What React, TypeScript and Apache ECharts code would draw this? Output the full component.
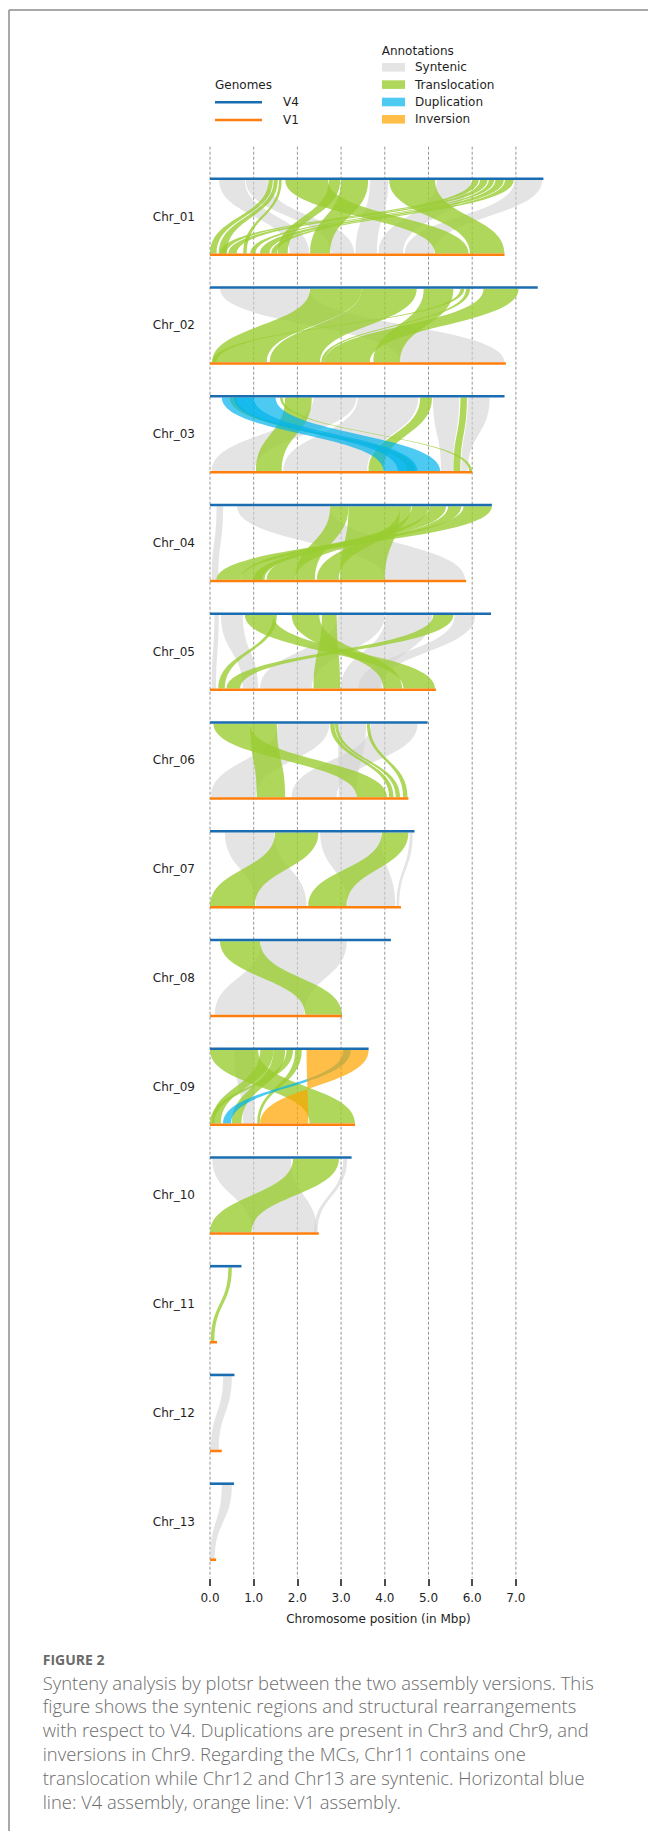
import React, { useEffect, useRef } from 'react';
import * as echarts from 'echarts';

// ---------- data ----------
const chromosomes = ['Chr_01', 'Chr_02', 'Chr_03', 'Chr_04', 'Chr_05', 'Chr_06', 'Chr_07', 'Chr_08', 'Chr_09', 'Chr_10', 'Chr_11', 'Chr_12', 'Chr_13'];
const v4Lengths = [7.63, 7.5, 6.74, 6.45, 6.43, 4.98, 4.68, 4.14, 3.63, 3.24, 0.72, 0.56, 0.55];
const v1Lengths = [6.74, 6.77, 6.0, 5.86, 5.17, 4.54, 4.37, 3.02, 3.32, 2.49, 0.16, 0.27, 0.14];
const xTicks = [0, 1, 2, 3, 4, 5, 6, 7];

// [chromosome index, V4 start, V4 end, V1 start, V1 end] (Mbp)
const syntenicRibbons = [
  [0, 0.21, 0.8, 1.83, 2.27],
  [0, 0.82, 1.32, 2.78, 3.3],
  [0, 3.66, 4.08, 3.33, 3.82],
  [0, 5.19, 5.97, 3.86, 4.42],
  [0, 6.97, 7.6, 4.46, 5.12],
  [1, 0.23, 2.27, 4.36, 6.74],
  [2, 2.37, 3.35, 0.04, 1.03],
  [2, 3.38, 4.76, 1.68, 3.6],
  [2, 5.1, 5.7, 5.29, 5.56],
  [2, 5.9, 6.4, 5.75, 5.9],
  [3, 0.15, 0.3, 0.04, 0.19],
  [3, 0.62, 2.74, 4.02, 5.84],
  [4, 0.1, 0.2, 0.04, 0.14],
  [4, 0.25, 0.75, 0.75, 1.1],
  [4, 2.92, 4.0, 1.15, 2.33],
  [4, 4.02, 5.08, 3.0, 3.95],
  [4, 5.6, 6.07, 3.4, 3.9],
  [5, 1.55, 2.73, 0.02, 1.05],
  [5, 2.93, 3.57, 2.95, 3.35],
  [5, 3.68, 4.75, 1.87, 2.9],
  [6, 0.34, 1.47, 1.05, 2.21],
  [6, 2.52, 3.91, 3.15, 4.24],
  [6, 4.57, 4.64, 4.27, 4.33],
  [7, 1.17, 3.13, 0.11, 2.16],
  [8, 0.55, 0.99, 0.76, 1.03],
  [9, 0.05, 1.85, 0.97, 2.45],
  [9, 3.05, 3.14, 2.38, 2.46],
  [11, 0.3, 0.5, 0.02, 0.2],
  [12, 0.27, 0.5, 0.0, 0.11],
];

const translocationRibbons = [
  [0, 1.34, 1.44, 0.0, 0.15],
  [0, 1.46, 1.55, 0.2, 0.38],
  [0, 1.58, 1.64, 0.76, 0.84],
  [0, 1.72, 2.7, 5.15, 5.92],
  [0, 2.72, 2.98, 1.55, 1.78],
  [0, 3.0, 3.62, 2.29, 2.75],
  [0, 4.1, 5.15, 5.95, 6.74],
  [0, 6.0, 6.15, 0.23, 0.38],
  [0, 6.18, 6.35, 0.42, 0.61],
  [0, 6.38, 6.5, 0.92, 1.05],
  [0, 6.53, 6.72, 1.15, 1.37],
  [0, 6.75, 6.95, 1.41, 1.53],
  [1, 2.29, 3.47, 0.05, 1.3],
  [1, 3.47, 4.73, 1.37, 2.52],
  [1, 4.89, 5.57, 3.74, 4.35],
  [1, 5.73, 5.82, 0.05, 0.15],
  [1, 5.86, 5.95, 2.55, 2.62],
  [1, 6.26, 7.06, 2.62, 3.66],
  [2, 1.72, 2.33, 1.05, 1.64],
  [2, 0.45, 0.6, 4.52, 4.7],
  [2, 4.81, 5.08, 3.63, 3.97],
  [2, 5.73, 5.88, 5.57, 5.73],
  [2, 1.6, 1.66, 5.93, 6.0],
  [3, 2.75, 3.17, 1.95, 2.4],
  [3, 3.17, 4.35, 2.98, 4.0],
  [3, 4.35, 4.6, 2.45, 2.95],
  [3, 4.62, 5.0, 1.3, 1.95],
  [3, 5.02, 5.4, 0.7, 1.25],
  [3, 5.45, 5.75, 1.0, 1.2],
  [3, 5.8, 6.45, 0.15, 0.7],
  [4, 0.8, 1.45, 4.43, 5.15],
  [4, 1.45, 1.53, 0.19, 0.34],
  [4, 1.87, 2.5, 3.97, 4.4],
  [4, 2.56, 2.9, 2.37, 2.98],
  [4, 5.11, 5.57, 0.38, 0.69],
  [5, 0.08, 0.92, 3.36, 4.05],
  [5, 0.92, 1.53, 1.07, 1.72],
  [5, 2.75, 2.85, 4.1, 4.2],
  [5, 2.86, 2.93, 4.25, 4.35],
  [5, 3.59, 3.66, 4.42, 4.52],
  [6, 1.49, 2.48, 0.0, 1.03],
  [6, 3.93, 4.54, 2.25, 3.13],
  [7, 0.23, 1.15, 2.18, 3.02],
  [8, 0.0, 1.1, 2.28, 3.32],
  [8, 1.15, 1.45, 0.04, 0.25],
  [8, 1.45, 1.72, 0.5, 0.72],
  [8, 1.75, 1.9, 0.0, 0.1],
  [8, 1.95, 2.1, 1.08, 1.14],
  [9, 1.9, 2.95, 0.0, 0.95],
  [10, 0.42, 0.5, 0.02, 0.1],
];

const duplicationRibbons = [
  [2, 0.27, 0.85, 3.97, 4.6],
  [2, 0.55, 1.0, 4.3, 4.75],
  [2, 0.85, 1.5, 4.6, 5.27],
  [8, 3.05, 3.22, 0.3, 0.48],
];

const inversionRibbons = [
  [8, 2.21, 3.63, 1.15, 2.25],
];

const captionLines = [
  'Synteny analysis by plotsr between the two assembly versions. This',
  'figure shows the syntenic regions and structural rearrangements',
  'with respect to V4. Duplications are present in Chr3 and Chr9, and',
  'inversions in Chr9. Regarding the MCs, Chr11 contains one',
  'translocation while Chr12 and Chr13 are syntenic. Horizontal blue',
  'line: V4 assembly, orange line: V1 assembly.',
];

// ---------- layout / style ----------
const W = 648;
const H = 1831;
const GRID_LEFT = 210;
const PX_PER_MBP = 43.7;
const X_MAX = 8;
const GRID_TOP = 146.7;
const GRID_BOTTOM_Y = 1579;
const ROW0 = 216.7;
const PITCH = 108.75;
const Y_MIN = (GRID_TOP - ROW0) / PITCH;
const Y_MAX = (GRID_BOTTOM_Y - ROW0) / PITCH;
const HALF = 38 / PITCH;

const BLUE = '#1a6db0';
const ORANGE = '#ff7f0e';
const C_SYN = 'rgba(211,211,211,0.62)';
const C_TRANS = 'rgba(154,205,50,0.8)';
const C_DUP = 'rgba(0,180,235,0.7)';
const C_INV = 'rgba(255,165,0,0.72)';
const FONT = 'DejaVu Sans';
const TXT = '#1e1e1e';

function ribbonRenderer(fill: string, inverted: boolean) {
  return (_params: any, api: any) => {
    const chr = api.value(0);
    const t0 = api.value(1);
    const t1 = api.value(2);
    const b0 = api.value(3);
    const b1 = api.value(4);
    const yT = api.coord([0, chr - HALF])[1] + 1.3;
    const yB = api.coord([0, chr + HALF])[1] - 1.3;
    const ym = (yT + yB) / 2;
    const xt0 = api.coord([t0, chr])[0];
    const xt1 = api.coord([t1, chr])[0];
    const xb0 = api.coord([b0, chr])[0];
    const xb1 = api.coord([b1, chr])[0];
    let d: string;
    if (!inverted) {
      d = `M${xt0},${yT} L${xt1},${yT} C${xt1},${ym} ${xb1},${ym} ${xb1},${yB} L${xb0},${yB} C${xb0},${ym} ${xt0},${ym} ${xt0},${yT} Z`;
    } else {
      d = `M${xt0},${yT} L${xt1},${yT} C${xt1},${ym} ${xb0},${ym} ${xb0},${yB} L${xb1},${yB} C${xb1},${ym} ${xt0},${ym} ${xt0},${yT} Z`;
    }
    return {
      type: 'path',
      shape: { pathData: d },
      style: { fill, stroke: null },
    };
  };
}

function ribbonSeries(name: string, data: number[][], fill: string, inverted: boolean, z: number) {
  return {
    type: 'custom',
    name,
    coordinateSystem: 'cartesian2d',
    silent: true,
    z,
    encode: { x: [1, 2, 3, 4], y: 0 },
    data,
    renderItem: ribbonRenderer(fill, inverted),
  };
}

export default function App() {
  const ref = useRef<HTMLDivElement>(null);

  useEffect(() => {
    if (!ref.current) return;
    const chart = echarts.init(ref.current, undefined, { renderer: 'svg' });

    const chromLines: number[][] = [];
    chromosomes.forEach((_c, i) => {
      chromLines.push([i, v4Lengths[i], 0]);
      chromLines.push([i, v1Lengths[i], 1]);
    });

    const legendAnn = [
      { label: 'Syntenic', color: C_SYN, y: 67.3 },
      { label: 'Translocation', color: C_TRANS, y: 84.6 },
      { label: 'Duplication', color: C_DUP, y: 102 },
      { label: 'Inversion', color: C_INV, y: 119.3 },
    ];

    const graphics: any[] = [
      // frame
      { type: 'line', shape: { x1: 9, y1: 10, x2: W, y2: 10 }, style: { stroke: '#8c8c8c', lineWidth: 1.5 }, silent: true },
      { type: 'line', shape: { x1: 9, y1: 10, x2: 9, y2: H }, style: { stroke: '#8c8c8c', lineWidth: 1.5 }, silent: true },
      // genomes legend
      { type: 'text', x: 215, y: 85, style: { text: 'Genomes', fontSize: 12, fontFamily: FONT, fill: TXT, textAlign: 'left', textVerticalAlign: 'middle' } },
      { type: 'line', shape: { x1: 215, y1: 102.3, x2: 262, y2: 102.3 }, style: { stroke: BLUE, lineWidth: 2.6 } },
      { type: 'text', x: 283, y: 102.3, style: { text: 'V4', fontSize: 12, fontFamily: FONT, fill: TXT, textAlign: 'left', textVerticalAlign: 'middle' } },
      { type: 'line', shape: { x1: 215, y1: 120, x2: 262, y2: 120 }, style: { stroke: ORANGE, lineWidth: 2.6 } },
      { type: 'text', x: 283, y: 120, style: { text: 'V1', fontSize: 12, fontFamily: FONT, fill: TXT, textAlign: 'left', textVerticalAlign: 'middle' } },
      // annotations legend
      { type: 'text', x: 381.7, y: 50.7, style: { text: 'Annotations', fontSize: 12, fontFamily: FONT, fill: TXT, textAlign: 'left', textVerticalAlign: 'middle' } },
      ...legendAnn.flatMap((a) => [
        { type: 'rect', shape: { x: 382, y: a.y - 4.3, width: 23, height: 8.6 }, style: { fill: a.color } },
        { type: 'text', x: 415, y: a.y, style: { text: a.label, fontSize: 12, fontFamily: FONT, fill: TXT, textAlign: 'left', textVerticalAlign: 'middle' } },
      ]),
      // x axis title
      { type: 'text', x: 378.5, y: 1618.5, style: { text: 'Chromosome position (in Mbp)', fontSize: 12, fontFamily: FONT, fill: TXT, textAlign: 'center', textVerticalAlign: 'middle' } },
      // caption
      { type: 'text', x: 42.7, y: 1659.5, style: { text: 'FIGURE 2', fontSize: 14, fontWeight: 'bold', fontFamily: 'Open Sans', fill: '#6a6a6a', textAlign: 'left', textVerticalAlign: 'middle' } },
      ...captionLines.map((line, k) => ({
        type: 'text',
        x: 42.7,
        y: 1682 + k * 23.8,
        style: { text: line, fontSize: 18.4, fontWeight: 300, fontFamily: 'Open Sans', fill: '#6c6c6c', textAlign: 'left', textVerticalAlign: 'middle' },
      })),
    ];

    chart.setOption({
      animation: false,
      backgroundColor: '#ffffff',
      grid: {
        left: GRID_LEFT,
        top: GRID_TOP,
        width: PX_PER_MBP * X_MAX,
        height: GRID_BOTTOM_Y - GRID_TOP,
        containLabel: false,
        outerBoundsMode: 'none',
      },
      xAxis: {
        type: 'value',
        position: 'bottom',
        min: 0,
        max: X_MAX,
        interval: 1,
        axisLine: { show: false, onZero: false },
        splitLine: { show: false },
        axisTick: { show: true, customValues: xTicks, length: 7, lineStyle: { color: '#111', width: 1.5 } },
        axisLabel: {
          customValues: xTicks,
          formatter: (v: number) => v.toFixed(1),
          fontFamily: FONT,
          fontSize: 12,
          color: TXT,
          margin: 13,
        },
      },
      yAxis: {
        type: 'value',
        position: 'left',
        inverse: true,
        min: Y_MIN,
        max: Y_MAX,
        axisLine: { show: false, onZero: false },
        axisTick: { show: false },
        splitLine: { show: false },
        axisLabel: {
          customValues: chromosomes.map((_c, i) => i),
          formatter: (v: number) => chromosomes[Math.round(v)] ?? '',
          fontFamily: FONT,
          fontSize: 12,
          color: TXT,
          margin: 15,
        },
      },
      graphic: graphics,
      series: [
        {
          type: 'custom',
          name: 'grid',
          coordinateSystem: 'cartesian2d',
          silent: true,
          z: 1,
          encode: { x: 0 },
          data: xTicks.map((v) => [v]),
          renderItem: (_p: any, api: any) => {
            const v = api.value(0);
            const p1 = api.coord([v, Y_MIN]);
            const p2 = api.coord([v, Y_MAX]);
            return {
              type: 'line',
              shape: { x1: p1[0], y1: p1[1], x2: p2[0], y2: p2[1] - 1.5 },
              style: { stroke: '#949494', lineWidth: 1, lineDash: [3, 2] },
            };
          },
        },
        ribbonSeries('Syntenic', syntenicRibbons, C_SYN, false, 2),
        ribbonSeries('Translocation', translocationRibbons, C_TRANS, false, 3),
        ribbonSeries('Duplication', duplicationRibbons, C_DUP, false, 4),
        ribbonSeries('Inversion', inversionRibbons, C_INV, true, 5),
        {
          type: 'custom',
          name: 'chromosomes',
          coordinateSystem: 'cartesian2d',
          silent: true,
          z: 6,
          encode: { x: 1, y: 0 },
          data: chromLines,
          renderItem: (_p: any, api: any) => {
            const chr = api.value(0);
            const len = api.value(1);
            const which = api.value(2);
            const y = which === 0 ? chr - HALF : chr + HALF;
            const a = api.coord([0, y]);
            const b = api.coord([len, y]);
            return {
              type: 'line',
              shape: { x1: a[0], y1: a[1], x2: b[0], y2: b[1] },
              style: { stroke: which === 0 ? BLUE : ORANGE, lineWidth: 2.6, lineCap: 'butt' },
            };
          },
        },
      ],
    });

    return () => {
      chart.dispose();
    };
  }, []);

  return (
    <div
      ref={ref}
      style={{ position: 'absolute', left: 0, top: 0, width: W, height: H, background: '#fff' }}
    />
  );
}
